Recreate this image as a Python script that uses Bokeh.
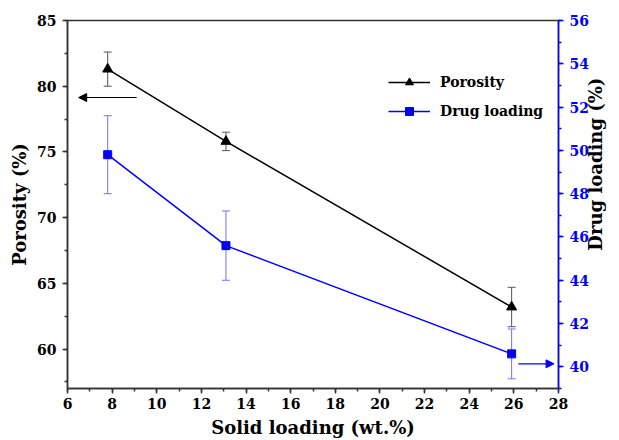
import math
from bokeh.plotting import figure
from bokeh.models import (Range1d, LinearAxis, SingleIntervalTicker, Whisker, TeeHead,
                          Arrow, NormalHead, ColumnDataSource, Legend, LegendItem)
from bokeh.embed import file_html
from bokeh.resources import INLINE

# ---- data ----
solid_loading = [7.8, 13.1, 25.9]
porosity = [81.3, 75.8, 63.2]
porosity_err = [1.3, 0.7, 1.5]
drug_loading = [49.8, 45.6, 40.6]
drug_err = [1.8, 1.6, 1.15]

x_ticks_interval = 2
FONT = "DejaVu Serif"
BLUE = "#0000ff"
AXC = "#333333"

por_src = ColumnDataSource(dict(x=solid_loading, y=porosity,
                                upper=[v + e for v, e in zip(porosity, porosity_err)],
                                lower=[v - e for v, e in zip(porosity, porosity_err)]))
drug_src = ColumnDataSource(dict(x=solid_loading, y=drug_loading,
                                 upper=[v + e for v, e in zip(drug_loading, drug_err)],
                                 lower=[v - e for v, e in zip(drug_loading, drug_err)]))

p = figure(width=619, height=440, output_backend="svg", toolbar_location=None,
           x_range=Range1d(6, 28), y_range=Range1d(57, 85),
           min_border_left=67, min_border_right=54, min_border_top=20, min_border_bottom=51,
           background_fill_color="white", border_fill_color="white")
p.extra_y_ranges = {"drug": Range1d(39, 56)}
p.grid.visible = False
p.outline_line_color = AXC
p.outline_line_width = 1.5


def style_axis(ax, color, label_color="black"):
    ax.axis_line_color = color
    ax.axis_line_width = 1.5
    ax.major_tick_line_color = color
    ax.minor_tick_line_color = color
    ax.major_tick_line_width = 1.5
    ax.minor_tick_line_width = 1.5
    ax.major_tick_out = 5
    ax.major_tick_in = 0
    ax.minor_tick_out = 3
    ax.minor_tick_in = 0
    ax.major_label_text_font = FONT
    ax.major_label_text_font_style = "bold"
    ax.major_label_text_font_size = "14px"
    ax.major_label_text_color = color if color == BLUE else "black"
    ax.axis_label_text_font = FONT
    ax.axis_label_text_font_style = "bold"
    ax.axis_label_text_font_size = "18px"
    ax.axis_label_text_color = label_color


xa = p.xaxis[0]
xa.ticker = SingleIntervalTicker(interval=x_ticks_interval, num_minor_ticks=2)
xa.axis_label = "Solid loading (wt.%)"
style_axis(xa, AXC)
xa.major_label_standoff = 4
xa.axis_label_standoff = 5

ya = p.yaxis[0]
ya.ticker = SingleIntervalTicker(interval=5, num_minor_ticks=2)
ya.axis_label = "Porosity (%)"
style_axis(ya, AXC)
ya.major_label_standoff = 6
ya.axis_label_standoff = 4

NBSP = "\u00a0"
yr = LinearAxis(y_range_name="drug", axis_label=NBSP * 22 + "Drug loading (%)",
                ticker=SingleIntervalTicker(interval=2, num_minor_ticks=2))
style_axis(yr, BLUE)
yr.major_label_standoff = 6
yr.axis_label_standoff = 4
yr.axis_label_orientation = math.pi / 2
yr.axis_label_align = "start"
p.add_layout(yr, "right")

# error bars
p.add_layout(Whisker(source=por_src, base="x", upper="upper", lower="lower",
                     line_color="#555555", line_width=1,
                     upper_head=TeeHead(size=8, line_color="#555555", line_width=1),
                     lower_head=TeeHead(size=8, line_color="#555555", line_width=1)))
p.add_layout(Whisker(source=drug_src, base="x", upper="upper", lower="lower",
                     y_range_name="drug",
                     line_color="#7070ff", line_width=1,
                     upper_head=TeeHead(size=8, line_color="#7070ff", line_width=1),
                     lower_head=TeeHead(size=8, line_color="#7070ff", line_width=1)))

l1 = p.line("x", "y", source=por_src, line_color="black", line_width=1.5)
s1 = p.scatter("x", "y", source=por_src, marker="triangle", size=10,
               fill_color="black", line_color="black")
l2 = p.line("x", "y", source=drug_src, line_color=BLUE, line_width=1.5, y_range_name="drug")
s2 = p.scatter("x", "y", source=drug_src, marker="square", size=8,
               fill_color=BLUE, line_color=BLUE, y_range_name="drug")

# arrows indicating axes
p.add_layout(Arrow(x_start=9.1, y_start=79.14, x_end=6.5, y_end=79.14,
                   line_color="black", line_width=1.2,
                   end=NormalHead(size=8, fill_color="black", line_color="black")))
p.add_layout(Arrow(x_start=26.2, y_start=40.14, x_end=27.8, y_end=40.14, y_range_name="drug",
                   line_color=BLUE, line_width=1.2,
                   end=NormalHead(size=8, fill_color=BLUE, line_color=BLUE)))

legend = Legend(items=[LegendItem(label="Porosity", renderers=[l1, s1]),
                       LegendItem(label="Drug loading", renderers=[l2, s2])],
                location=(321, 267), border_line_color=None, background_fill_alpha=0,
                label_text_font=FONT, label_text_font_style="bold", label_text_font_size="14px",
                label_text_color="black",
                glyph_width=42, glyph_height=20, label_height=20, spacing=9, padding=5,
                label_standoff=10, margin=0)
p.add_layout(legend)

open("out.html", "w").write(file_html(p, INLINE))
